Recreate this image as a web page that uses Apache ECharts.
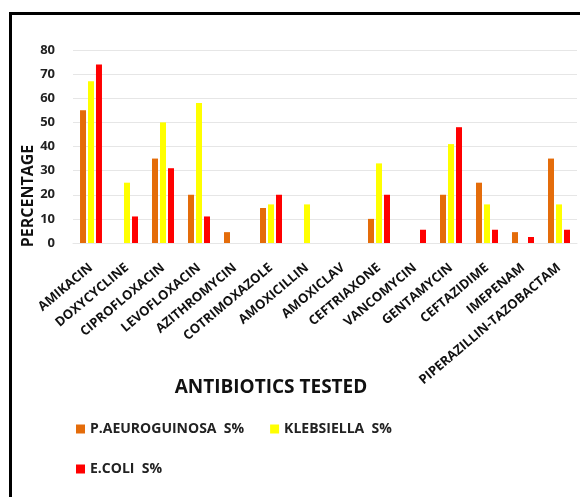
<!DOCTYPE html>
<html>
<head>
<meta charset="utf-8">
<script src="https://cdn.jsdelivr.net/npm/echarts@6/dist/echarts.min.js"></script>
<style>
  html, body { margin: 0; padding: 0; background: #fff; }
  #chart { width: 580px; height: 497px; }
</style>
</head>
<body>
<div id="chart"></div>
<script>
var categories = ['AMIKACIN', 'DOXYCYCLINE', 'CIPROFLOXACIN', 'LEVOFLOXACIN', 'AZITHROMYCIN',
  'COTRIMOXAZOLE', 'AMOXICILLIN', 'AMOXICLAV', 'CEFTRIAXONE', 'VANCOMYCIN',
  'GENTAMYCIN', 'CEFTAZIDIME', 'IMEPENAM', 'PIPERAZILLIN-TAZOBACTAM'];
var pseudomonas = [55, 0, 35, 20, 4.5, 14.5, 0, 0, 10, 0, 20, 25, 4.5, 35];
var klebsiella = [67, 25, 50, 58, 0, 16, 16, 0, 33, 0, 41, 16, 0, 16];
var ecoli = [74, 11, 31, 11, 0, 20, 0, 0, 20, 5.5, 48, 5.5, 2.5, 5.5];
var seriesNames = ['P.AEUROGUINOSA  S%', 'KLEBSIELLA  S%', 'E.COLI  S%'];
var yTicks = [0, 10, 20, 30, 40, 50, 60, 70, 80];

var font = 'Open Sans';
var chart = echarts.init(document.getElementById('chart'));

function bar(name, data, color) {
  return {
    name: name,
    type: 'bar',
    data: data,
    barWidth: 6,
    barGap: '33%',
    itemStyle: { color: color }
  };
}

var legendText = { fontFamily: font, fontWeight: 'bold', fontSize: 14, color: '#222' };

var option = {
  animation: false,
  textStyle: { fontFamily: font },
  grid: { left: 73, right: 3, top: 50, bottom: 254 },
  legend: [
    {
      data: [seriesNames[0], seriesNames[1]],
      left: 71, top: 417,
      itemWidth: 9, itemHeight: 9, itemGap: 26,
      icon: 'rect',
      textStyle: legendText
    },
    {
      data: [seriesNames[2]],
      left: 71, top: 457,
      itemWidth: 9, itemHeight: 9,
      icon: 'rect',
      textStyle: legendText
    }
  ],
  xAxis: {
    type: 'category',
    data: categories,
    axisLine: { show: true, lineStyle: { color: '#e6e6e6' } },
    axisTick: { show: false },
    axisLabel: {
      rotate: 40, interval: 0, margin: 23,
      fontFamily: font, fontWeight: 'bold', fontSize: 13, color: '#111'
    }
  },
  yAxis: {
    type: 'value',
    min: yTicks[0],
    max: yTicks[yTicks.length - 1],
    interval: 10,
    axisLine: { show: false },
    axisTick: { show: false },
    splitLine: { lineStyle: { color: '#e6e6e6' } },
    axisLabel: { margin: 18, fontFamily: font, fontWeight: 'bold', fontSize: 13, color: '#222' }
  },
  graphic: [
    {
      type: 'rect',
      shape: { x: 10.5, y: 13.5, width: 700, height: 700 },
      style: { fill: 'none', stroke: '#000', lineWidth: 3 },
      silent: true
    },
    {
      type: 'text',
      x: 28, y: 196,
      rotation: Math.PI / 2,
      style: {
        text: 'PERCENTAGE', fontFamily: font, fontWeight: 'bold', fontSize: 16,
        fill: '#111', align: 'center', verticalAlign: 'middle'
      }
    },
    {
      type: 'text',
      x: 271, y: 388,
      style: {
        text: 'ANTIBIOTICS TESTED', fontFamily: font, fontWeight: 'bold', fontSize: 19,
        fill: '#111', align: 'center', verticalAlign: 'middle'
      }
    }
  ],
  series: [
    bar(seriesNames[0], pseudomonas, '#E46C0A'),
    bar(seriesNames[1], klebsiella, '#FFFF00'),
    bar(seriesNames[2], ecoli, '#FF0000')
  ]
};
chart.setOption(option);
</script>
</body>
</html>
